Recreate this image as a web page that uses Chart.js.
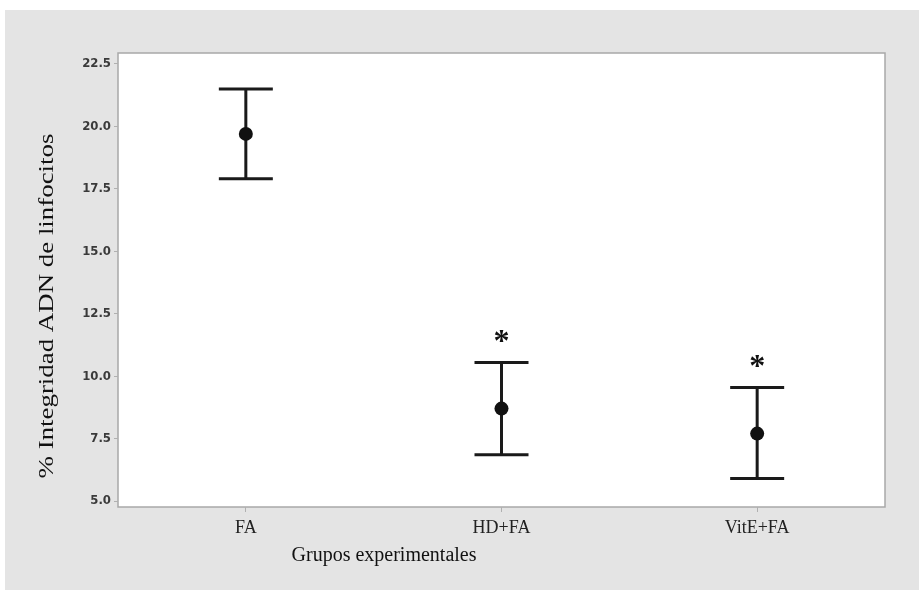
<!DOCTYPE html>
<html>
<head>
<meta charset="utf-8">
<script src="https://cdn.jsdelivr.net/npm/chart.js@4.4.1/dist/chart.umd.min.js"></script>
<style>
  html, body { margin: 0; padding: 0; background: #fff; }
  #wrap { width: 919px; height: 590px; }
</style>
</head>
<body>
<div id="wrap"><canvas id="chart" width="919" height="590"></canvas></div>
<script>
const groups = ['FA', 'HD+FA', 'VitE+FA'];
const means = [19.7, 8.7, 7.7];
const lower = [17.9, 6.85, 5.9];
const upper = [21.5, 10.55, 9.55];
const signif = [false, true, true];
const yTicks = [5.0, 7.5, 10.0, 12.5, 15.0, 17.5, 20.0, 22.5];

const serif = '"Liberation Serif", "Times New Roman", serif';

const backdrop = {
  id: 'backdrop',
  beforeDraw(chart) {
    const { ctx, chartArea: a } = chart;
    ctx.save();
    ctx.fillStyle = '#ffffff';
    ctx.fillRect(0, 0, chart.width, chart.height);
    ctx.fillStyle = '#e4e4e4';
    ctx.fillRect(5, 10, chart.width - 5, chart.height - 10);
    ctx.fillStyle = '#ffffff';
    ctx.fillRect(a.left, a.top, a.right - a.left, a.bottom - a.top);
    ctx.strokeStyle = '#a8a8a8';
    ctx.lineWidth = 1.5;
    ctx.strokeRect(a.left, a.top, a.right - a.left, a.bottom - a.top);
    ctx.restore();
  },
  afterDraw(chart) {
    const { ctx } = chart;
    ctx.save();
    ctx.fillStyle = '#111';
    ctx.font = '20px ' + serif;
    ctx.textAlign = 'center';
    ctx.textBaseline = 'middle';
    ctx.fillText('Grupos experimentales', 384, 556);
    ctx.translate(47, 306);
    ctx.rotate(-Math.PI / 2);
    ctx.scale(1.28, 1);
    ctx.font = '21px ' + serif;
    ctx.fillText('% Integridad ADN de linfocitos', 0, 0);
    ctx.restore();
  }
};

const errorBars = {
  id: 'errorBars',
  beforeDatasetsDraw(chart) {
    const { ctx, scales: { x, y } } = chart;
    ctx.save();
    ctx.strokeStyle = '#1a1a1a';
    ctx.lineWidth = 3;
    groups.forEach((g, i) => {
      const px = x.getPixelForValue(i);
      const yl = y.getPixelForValue(lower[i]);
      const yu = y.getPixelForValue(upper[i]);
      ctx.beginPath();
      ctx.moveTo(px, yu); ctx.lineTo(px, yl);
      ctx.moveTo(px - 27, yu); ctx.lineTo(px + 27, yu);
      ctx.moveTo(px - 27, yl); ctx.lineTo(px + 27, yl);
      ctx.stroke();
      if (signif[i]) {
        ctx.fillStyle = '#111';
        ctx.font = 'bold 32px ' + serif;
        ctx.textAlign = 'center';
        ctx.textBaseline = 'middle';
        ctx.fillText('*', px, yu - 20);
      }
    });
    ctx.restore();
  }
};

new Chart(document.getElementById('chart'), {
  type: 'line',
  data: {
    labels: groups,
    datasets: [{
      data: means,
      showLine: false,
      pointRadius: 7,
      pointHoverRadius: 7,
      pointBackgroundColor: '#111',
      pointBorderColor: '#111',
      pointBorderWidth: 0
    }]
  },
  options: {
    responsive: false,
    animation: false,
    layout: { padding: { left: 0, right: 34, top: 53, bottom: 0 } },
    plugins: { legend: { display: false }, tooltip: { enabled: false } },
    scales: {
      x: {
        offset: true,
        grid: { drawOnChartArea: false, color: '#b0b0b0', tickLength: 5, offset: false },
        border: { display: false },
        ticks: { color: '#222', padding: 5, font: { family: serif, size: 18 } },
        afterFit(s) { s.height = 83; }
      },
      y: {
        min: 4.76,
        max: 22.94,
        grid: { drawOnChartArea: false, color: '#b0b0b0', tickLength: 4 },
        border: { display: false },
        afterBuildTicks(s) { s.ticks = yTicks.map(v => ({ value: v })); },
        ticks: {
          color: '#3a3a3a',
          padding: 3,
          font: { family: '"DejaVu Sans Condensed", "DejaVu Sans", sans-serif', size: 13, weight: 'bold' },
          callback: v => Number(v).toFixed(1)
        },
        afterFit(s) { s.width = 118; }
      }
    }
  },
  plugins: [backdrop, errorBars]
});
</script>
</body>
</html>
